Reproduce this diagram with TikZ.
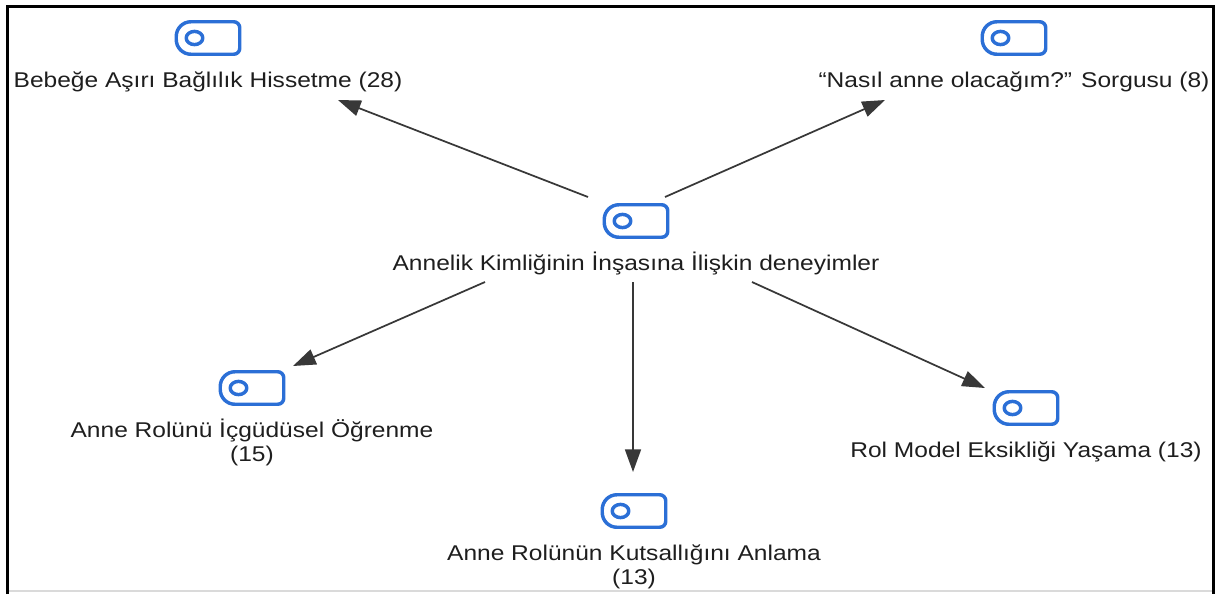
\documentclass[tikz,border=0pt]{standalone}
\usepackage{fontspec}
\newfontfamily\labfont[FakeStretch=1.15]{Liberation Sans}
\usetikzlibrary{arrows.meta}
\definecolor{iconblue}{HTML}{2B6FD6}
\definecolor{arrowgray}{HTML}{383838}
\definecolor{txt}{HTML}{1E1E1E}
\definecolor{edgegray}{HTML}{DADADA}
\begin{document}
\begin{tikzpicture}[x=0.75pt,y=-0.75pt,
  iconline/.style={draw=iconblue,line width=2.6pt,line join=round},
  iconnode/.style={minimum width=60pt,minimum height=36pt,inner sep=0pt,
    path picture={
      \coordinate (pc) at (path picture bounding box.center);
      \draw[iconline] ([shift={(0,-16.25)}]pc) [rounded corners=4.5pt]
        -- ([shift={(31.75,-16.25)}]pc) -- ([shift={(31.75,16.25)}]pc)
        -- ([shift={(0,16.25)}]pc) [rounded corners=11pt]
        -- ([shift={(-31.75,16.25)}]pc) -- ([shift={(-31.75,-16.25)}]pc) -- cycle;
      \draw[iconline] ([shift={(-13.5,0)}]pc) ellipse [x radius=8.3, y radius=6.6];
    }},
  lab/.style={anchor=north,inner sep=0pt,align=center,text=txt,
    font=\labfont\fontsize{16}{18}\selectfont},
  arr/.style={draw=arrowgray,line width=1.3pt,-{Triangle[length=17pt,width=12pt]}}
]
\useasboundingbox (0,0) rectangle (1217,594);
% frame
\draw[line width=2.3pt,black] (7.5,594) -- (7.5,6.5) -- (1213.5,6.5) -- (1213.5,594);
\draw[edgegray,line width=0.8pt] (9,591) -- (1212,591);

% icons
\node[iconnode] (ic) at (636,221) {};
\node[iconnode] (i1) at (208,38) {};
\node[iconnode] (i2) at (1014,38) {};
\node[iconnode] (i3) at (252,388) {};
\node[iconnode] (i4) at (634,511) {};
\node[iconnode] (i5) at (1026,408) {};

% labels
\node[lab] (lc) at ([yshift=-27.5*0.75pt]ic.center) {\rule{0pt}{16pt}Annelik Kimliğinin İnşasına İlişkin deneyimler};
\node[lab] (l1) at ([yshift=-27.5*0.75pt]i1.center) {\rule{0pt}{16pt}Bebeğe Aşırı Bağlılık Hissetme (28)};
\node[lab] (l2) at ([yshift=-27.5*0.75pt]i2.center) {\rule{0pt}{16pt}“Nasıl anne olacağım?” Sorgusu (8)};
\node[lab] (l3) at ([yshift=-27.5*0.75pt]i3.center) {\rule{0pt}{16pt}Anne Rolünü İçgüdüsel Öğrenme\\(15)};
\node[lab] (l4) at ([yshift=-27.5*0.75pt]i4.center) {\rule{0pt}{16pt}Anne Rolünün Kutsallığını Anlama\\(13)};
\node[lab] (l5) at ([yshift=-27.5*0.75pt]i5.center) {\rule{0pt}{16pt}Rol Model Eksikliği Yaşama (13)};

% connector ends
\coordinate (s1) at (588,197); \coordinate (e1) at (338,100);
\coordinate (s2) at (665,197); \coordinate (e2) at (885,100);
\coordinate (s3) at (485,282); \coordinate (e3) at (293,366);
\coordinate (s4) at (633,282); \coordinate (e4) at (633,472);
\coordinate (s5) at (752,282); \coordinate (e5) at (985,388);

\draw[arr] (s1) -- (e1);
\draw[arr] (s2) -- (e2);
\draw[arr] (s3) -- (e3);
\draw[arr] (s4) -- (e4);
\draw[arr] (s5) -- (e5);
\end{tikzpicture}
\end{document}
